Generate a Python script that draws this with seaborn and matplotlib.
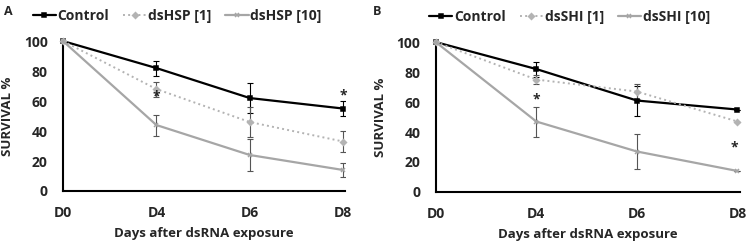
import numpy as np
import pandas as pd
import matplotlib
matplotlib.use('Agg')
import matplotlib.pyplot as plt
import seaborn as sns

# Data
days = ['D0', 'D4', 'D6', 'D8']

a_labels = ['Control', 'dsHSP [1]', 'dsHSP [10]']
a_control = [100, 82, 62, 55]
a_control_err = [0, 5, 10, 5]
a_hsp1 = [100, 68, 46, 33]
a_hsp1_err = [0, 5, 10, 7]
a_hsp10 = [100, 44, 24, 14]
a_hsp10_err = [0, 7, 10.5, 4.5]
a_stars = [(1, 63), (3, 64)]

b_labels = ['Control', 'dsSHI [1]', 'dsSHI [10]']
b_control = [100, 82, 61, 55]
b_control_err = [0, 5, 10, 0]
b_shi1 = [100, 75, 67, 47]
b_shi1_err = [0, 3, 5, 0]
b_shi10 = [100, 47, 27, 14]
b_shi10_err = [0, 10, 12, 0]
b_stars = [(1, 62), (2.97, 30)]

sns.set_style('white')
plt.rcParams['font.family'] = ['Open Sans', 'DejaVu Sans']
plt.rcParams['font.weight'] = 'bold'

styles = [
    dict(color='black', marker='s', linestyle='-', lw=1.6, ms=3.5, ecolor='black'),
    dict(color='#b3b3b3', marker='D', linestyle=':', lw=1.4, ms=3, ecolor='#555555'),
    dict(color='#a6a6a6', marker='x', linestyle='-', lw=1.6, ms=3.5, ecolor='#555555'),
]

fig = plt.figure(figsize=(7.5, 2.49), dpi=100)
ax_a = fig.add_axes([0.084, 0.233, 0.376, 0.602])
ax_b = fig.add_axes([0.581, 0.229, 0.405, 0.602])


def draw_panel(ax, labels, series, errors, stars, leg_x):
    x = np.arange(len(days))
    for lab, vals, err, st in zip(labels, series, errors, styles):
        df = pd.DataFrame({'day': x, 'val': vals})
        sns.lineplot(data=df, x='day', y='val', ax=ax, color=st['color'],
                     marker=st['marker'], linestyle=st['linestyle'], lw=st['lw'],
                     markersize=st['ms'], markeredgecolor=st['color'],
                     markeredgewidth=1.1, label=lab, clip_on=False, zorder=3)
        ax.errorbar(x, vals, yerr=err, fmt='none', ecolor=st['ecolor'],
                    elinewidth=0.8, capsize=2.5, capthick=0.8, zorder=2)
    for sx, sy in stars:
        ax.text(sx, sy, '*', ha='center', va='center', fontsize=10, fontweight='bold')
    ax.set_xlim(0, 3.02)
    ax.set_ylim(0, 100)
    ax.set_xticks(x)
    ax.set_xticklabels(days)
    ax.set_yticks([0, 20, 40, 60, 80, 100])
    ax.tick_params(axis='both', length=0, labelsize=10)
    ax.tick_params(axis='y', pad=11)
    ax.tick_params(axis='x', pad=11)
    for lbl in ax.get_xticklabels() + ax.get_yticklabels():
        lbl.set_fontweight('bold')
    sns.despine(ax=ax)
    for sp in ['left', 'bottom']:
        ax.spines[sp].set_linewidth(1.5)
        ax.spines[sp].set_color('black')
    ax.set_xlabel('Days after dsRNA exposure', fontsize=9.5, fontweight='bold', labelpad=5)
    ax.set_ylabel('SURVIVAL %', fontsize=9.5, fontweight='bold', labelpad=7)
    ax.legend(loc='lower center', bbox_to_anchor=(leg_x, 1.085), ncol=3, frameon=False,
              fontsize=10, handlelength=1.7, handletextpad=0.1, columnspacing=1.0,
              borderaxespad=0)


draw_panel(ax_a, a_labels, [a_control, a_hsp1, a_hsp10],
           [a_control_err, a_hsp1_err, a_hsp10_err], a_stars, 0.405)
draw_panel(ax_b, b_labels, [b_control, b_shi1, b_shi10],
           [b_control_err, b_shi1_err, b_shi10_err], b_stars, 0.44)

fig.text(0.005, 0.955, 'A', fontsize=9, fontweight='bold', va='center')
fig.text(0.497, 0.955, 'B', fontsize=9, fontweight='bold', va='center')

fig.savefig('out.png', dpi=100)
